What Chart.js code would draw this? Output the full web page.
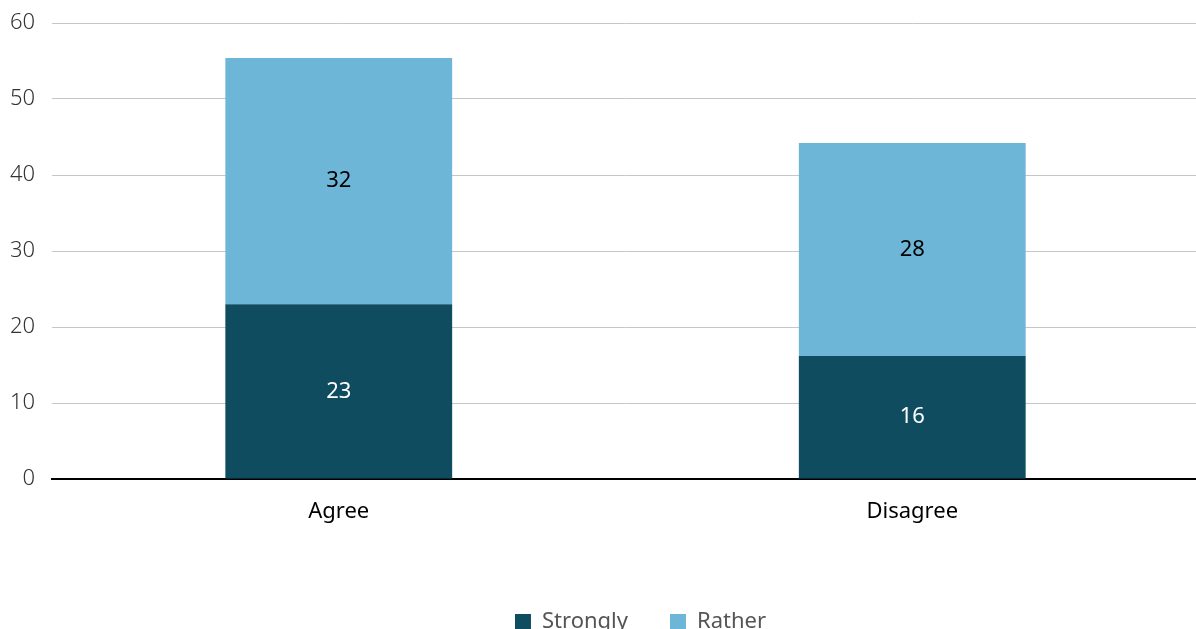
<!DOCTYPE html>
<html>
<head>
<meta charset="utf-8">
<script src="https://cdn.jsdelivr.net/npm/chart.js@4"></script>
<style>
  body { margin: 0; overflow: hidden; background: #fff; }
  #wrap { width: 1199px; height: 643px; }
</style>
</head>
<body>
<div id="wrap"><canvas id="chart"></canvas></div>
<script>
'use strict';

// data
let categories = ['Agree', 'Disagree'];
let stronglyValues = [23.0, 16.2];
let ratherValues = [32.4, 28.0];
let yTicks = [0, 10, 20, 30, 40, 50, 60];

let darkBlue = '#0f4c5f';
let lightBlue = '#6eb6d8';

// draws the number in the middle of each bar piece
let barLabels = {
  id: 'barLabels',
  afterDatasetsDraw(chart) {
    let ctx = chart.ctx;
    ctx.save();
    ctx.font = '22px "Noto Sans"';
    ctx.textAlign = 'center';
    ctx.textBaseline = 'middle';
    chart.data.datasets.forEach((ds, i) => {
      let meta = chart.getDatasetMeta(i);
      meta.data.forEach((bar, j) => {
        let mid = (bar.y + bar.base) / 2;
        ctx.fillStyle = i === 0 ? '#ffffff' : '#000000';
        ctx.fillText(Math.round(ds.data[j]), bar.x, mid);
      });
    });
    ctx.restore();
  }
};

// legend sits a bit right of the canvas centre in the original
let legendShift = {
  id: 'legendShift',
  afterLayout(chart) {
    chart.legend.left += 41;
    chart.legend.right += 41;
  }
};

const ctx = document.getElementById('chart').getContext('2d');
const myChart = new Chart(ctx, { //eslint-disable-line
  type: 'bar',
  data: {
    labels: categories,
    datasets: [{
      label: 'Strongly',
      data: stronglyValues,
      backgroundColor: darkBlue
    },
    {
      label: 'Rather',
      data: ratherValues,
      backgroundColor: lightBlue
    }]
  },
  options: {
    responsive: true,
    maintainAspectRatio: false,
    animation: false,
    layout: { padding: { top: 23, right: 0, left: 0, bottom: 0 } },
    datasets: {
      bar: { categoryPercentage: 1, barPercentage: 0.3955 }
    },
    scales: {
      x: {
        stacked: true,
        grid: { display: false, drawTicks: false },
        border: { color: '#000', width: 2 },
        ticks: { color: '#000', font: { family: 'Noto Sans', size: 22 }, padding: 20 },
        afterFit(scale) { scale.height = 90; }
      },
      y: {
        stacked: true,
        min: 0,
        max: 60,
        afterBuildTicks(scale) { scale.ticks = yTicks.map(v => ({ value: v })); },
        grid: { color: '#c6c6c6', drawTicks: false },
        border: { display: false },
        ticks: { color: '#333', font: { family: 'Noto Sans', size: 22, weight: 300 }, padding: 17 },
        afterFit(scale) {
          scale.width = 52;
          scale.paddingTop = 0;
          scale.paddingBottom = 0;
        }
      }
    },
    plugins: {
      legend: {
        position: 'bottom',
        labels: {
          boxWidth: 16,
          boxHeight: 16,
          padding: 42,
          color: '#555',
          font: { family: 'Noto Sans', size: 22 }
        }
      },
      tooltip: { enabled: false }
    }
  },
  plugins: [barLabels, legendShift]
});
</script>
</body>
</html>
